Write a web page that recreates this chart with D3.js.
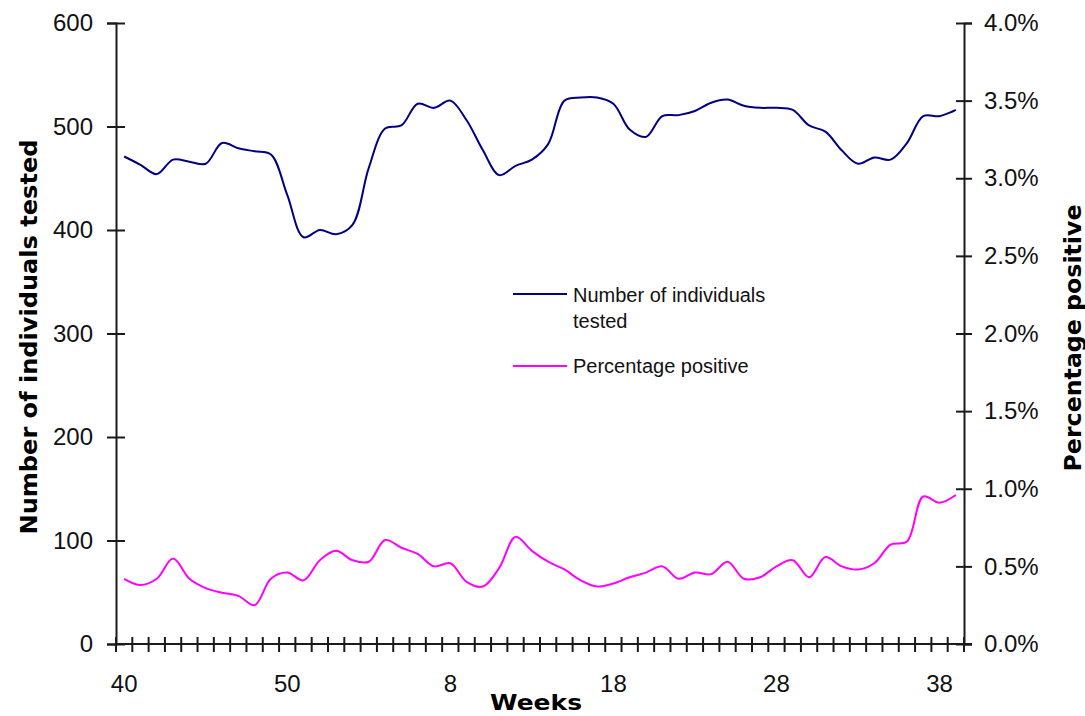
<!DOCTYPE html>
<html>
<head>
<meta charset="utf-8">
<script src="https://cdn.jsdelivr.net/npm/d3@7"></script>
<style>
  html, body { margin: 0; padding: 0; background: #fff; }
  svg { display: block; }
  .tick-label { font-family: "Liberation Sans", Arial, sans-serif; font-size: 24px; fill: #111; }
  .axis-title { font-family: "DejaVu Sans", Verdana, sans-serif; font-weight: bold; font-size: 23px; fill: #000; }
  .legend-text { font-family: "Liberation Sans", Arial, sans-serif; font-size: 20px; fill: #111; }
</style>
</head>
<body>
<svg id="chart" width="1085" height="716"></svg>
<script>
// Surveillance weeks: week 40 of one year through week 39 of the next
const weeks = [40, 41, 42, 43, 44, 45, 46, 47, 48, 49, 50, 51, 52,
  1, 2, 3, 4, 5, 6, 7, 8, 9, 10, 11, 12, 13, 14, 15, 16, 17, 18, 19, 20,
  21, 22, 23, 24, 25, 26, 27, 28, 29, 30, 31, 32, 33, 34, 35, 36, 37, 38, 39];

// Number of individuals tested per week
const tested = [471, 463, 454, 468, 466, 464, 484, 479, 476, 473, 434, 393, 400,
  396, 405, 460, 498, 501, 522, 518, 525, 506, 477, 453, 462, 468, 483, 525, 528,
  528, 522, 497, 490, 510, 511, 515, 523, 526, 520, 518, 518, 516, 501, 495, 477,
  464, 470, 468, 484, 510, 510, 516];

// Percentage of tested individuals who were positive (fractions)
const positive = [0.0042, 0.0038, 0.0042, 0.0055, 0.0042, 0.0036, 0.0033, 0.0031, 0.0025, 0.0042, 0.0046, 0.0041, 0.0054,
  0.0060, 0.0054, 0.0053, 0.0067, 0.0062, 0.0058, 0.0050, 0.0052, 0.0040, 0.0037, 0.0049, 0.0069, 0.0060, 0.0053,
  0.0048, 0.0041, 0.0037, 0.0039, 0.0043, 0.0046, 0.0050, 0.0042, 0.0046, 0.0045, 0.0053, 0.0042, 0.0043, 0.0050,
  0.0054, 0.0043, 0.0056, 0.0050, 0.0048, 0.0052, 0.0064, 0.0066, 0.0095, 0.0091, 0.0096];

// Axis tick values
const leftTicks = [0, 100, 200, 300, 400, 500, 600];
const rightTicks = [0, 0.005, 0.01, 0.015, 0.02, 0.025, 0.03, 0.035, 0.04];
const labelEvery = 10; // label weeks 40, 50, 8, 18, 28, 38

const seriesNames = ["Number of individuals tested", "Percentage positive"];
const colors = ["#000080", "#FF00FF"];

const svg = d3.select("#chart");
const plot = { left: 116, right: 964, top: 23, bottom: 644 };

const x = d3.scaleBand().domain(weeks).range([plot.left, plot.right]).padding(0);
const yLeft = d3.scaleLinear().domain([0, 600]).range([plot.bottom, plot.top]);
const yRight = d3.scaleLinear().domain([0, 0.04]).range([plot.bottom, plot.top]);
const cx = w => x(w) + x.bandwidth() / 2;

const axisColor = "#1a1a1a";

// Left axis
const gL = svg.append("g").attr("transform", `translate(${plot.left},0)`)
  .call(d3.axisLeft(yLeft).tickValues(leftTicks).tickSize(9).tickPadding(14));
gL.select(".domain").attr("stroke", axisColor).attr("stroke-width", 2);
gL.selectAll(".tick line").attr("x1", 9).attr("x2", -9).attr("stroke", axisColor).attr("stroke-width", 2);
gL.selectAll(".tick text").attr("class", "tick-label").attr("font-size", null).attr("font-family", null).attr("fill", null);

// Right axis
const gR = svg.append("g").attr("transform", `translate(${plot.right},0)`)
  .call(d3.axisRight(yRight).tickValues(rightTicks).tickFormat(d3.format(".1%")).tickSize(8).tickPadding(12));
gR.select(".domain").attr("stroke", axisColor).attr("stroke-width", 2);
gR.selectAll(".tick line").attr("x1", -8).attr("x2", 8).attr("stroke", axisColor).attr("stroke-width", 2);
gR.selectAll(".tick text").attr("class", "tick-label").attr("font-size", null).attr("font-family", null).attr("fill", null);

// Bottom category axis: ticks between categories, labels every 10 weeks
const gB = svg.append("g").attr("transform", `translate(0,${plot.bottom})`);
gB.append("line").attr("x1", plot.left - 1).attr("x2", plot.right + 8)
  .attr("stroke", axisColor).attr("stroke-width", 2);
const boundaries = weeks.map(w => x(w)).concat([x(weeks[weeks.length - 1]) + x.bandwidth()]);
gB.selectAll("line.tk").data(boundaries).join("line").attr("class", "tk")
  .attr("x1", d => d).attr("x2", d => d).attr("y1", -7).attr("y2", 8)
  .attr("stroke", axisColor).attr("stroke-width", 2);
gB.selectAll("text").data(weeks.filter((w, i) => i % labelEvery === 0)).join("text")
  .attr("class", "tick-label").attr("text-anchor", "middle")
  .attr("x", d => cx(d)).attr("y", 48).text(d => d);

// Series lines (smoothed)
const lineTested = d3.line().x((d, i) => cx(weeks[i])).y(d => yLeft(d)).curve(d3.curveCatmullRom);
const linePos = d3.line().x((d, i) => cx(weeks[i])).y(d => yRight(d)).curve(d3.curveCatmullRom);
svg.append("path").datum(tested).attr("d", lineTested)
  .attr("fill", "none").attr("stroke", colors[0]).attr("stroke-width", 2);
svg.append("path").datum(positive).attr("d", linePos)
  .attr("fill", "none").attr("stroke", colors[1]).attr("stroke-width", 2);

// Axis titles
svg.append("text").attr("class", "axis-title")
  .attr("transform", "translate(37,337) rotate(-90)").attr("text-anchor", "middle")
  .attr("textLength", 395).attr("lengthAdjust", "spacingAndGlyphs")
  .text("Number of individuals tested");
svg.append("text").attr("class", "axis-title")
  .attr("transform", "translate(1081,338) rotate(-90)").attr("text-anchor", "middle")
  .attr("textLength", 267).attr("lengthAdjust", "spacingAndGlyphs")
  .text("Percentage positive");
svg.append("text").attr("class", "axis-title")
  .attr("x", 536).attr("y", 710).attr("text-anchor", "middle")
  .style("font-size", "21px")
  .attr("textLength", 92).attr("lengthAdjust", "spacingAndGlyphs").text("Weeks");

// Legend
const legend = svg.append("g");
legend.append("line").attr("x1", 513).attr("x2", 567).attr("y1", 294).attr("y2", 294)
  .attr("stroke", colors[0]).attr("stroke-width", 2);
legend.append("text").attr("class", "legend-text").attr("x", 573).attr("y", 302).text("Number of individuals");
legend.append("text").attr("class", "legend-text").attr("x", 573).attr("y", 328).text("tested");
legend.append("line").attr("x1", 513).attr("x2", 567).attr("y1", 366).attr("y2", 366)
  .attr("stroke", colors[1]).attr("stroke-width", 2);
legend.append("text").attr("class", "legend-text").attr("x", 573).attr("y", 373).text(seriesNames[1]);
</script>
</body>
</html>
